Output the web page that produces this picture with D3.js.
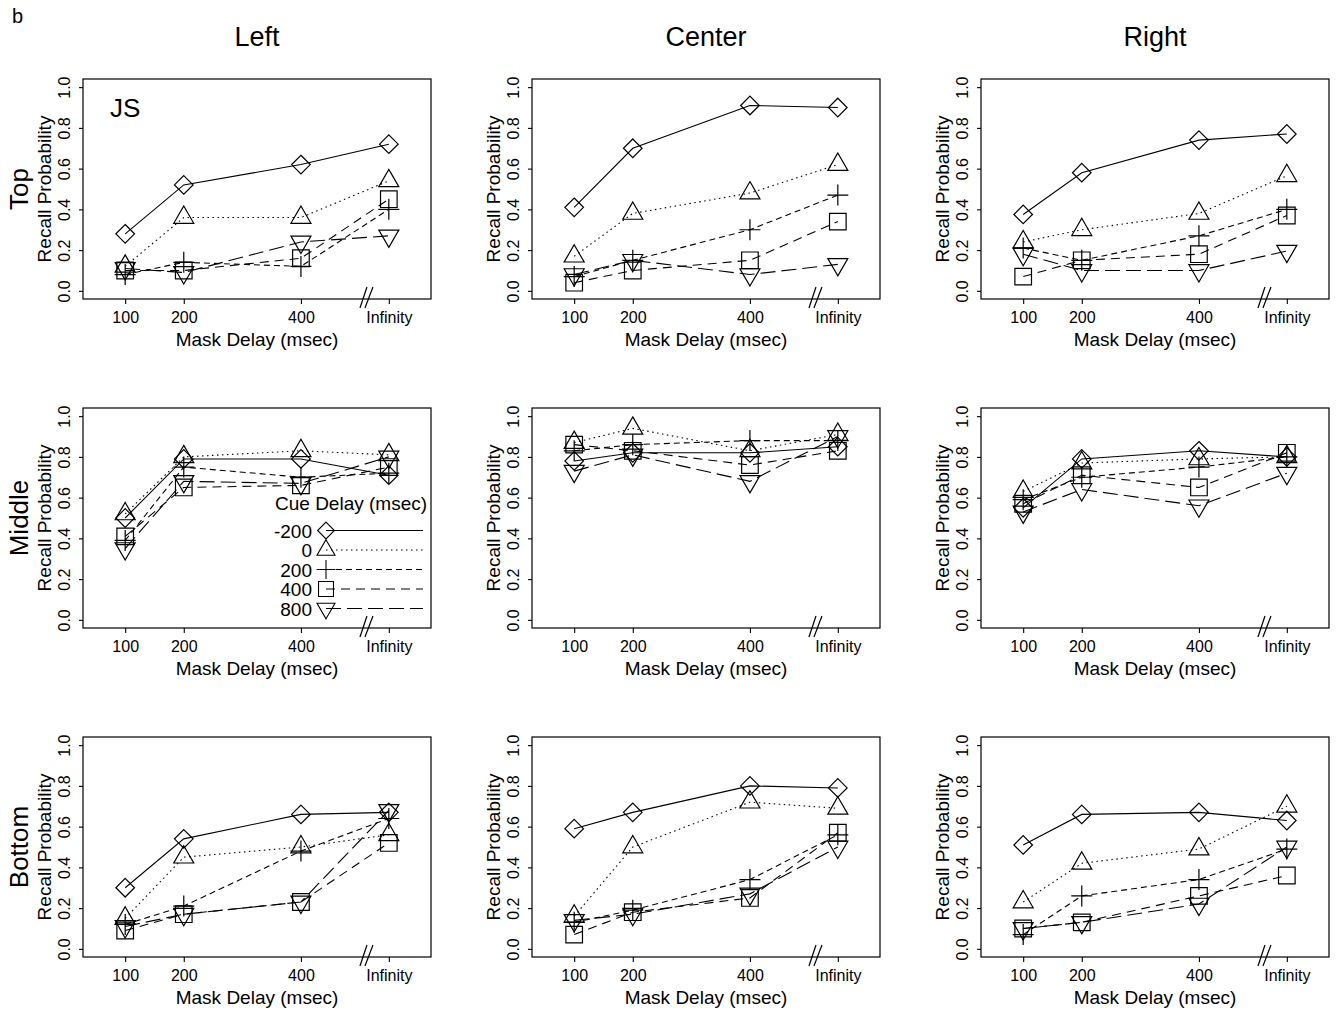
<!DOCTYPE html>
<html>
<head>
<meta charset="utf-8">
<script src="https://cdn.jsdelivr.net/npm/d3@7"></script>
<style>
  html, body { margin: 0; padding: 0; background: #fff; }
  svg { display: block; font-family: "Liberation Sans", Arial, Helvetica, sans-serif; }
</style>
</head>
<body>
<svg id="chart" width="1337" height="1010"></svg>
<script>
// ---------------- DATA ----------------
const panelLabel = "b";
const columnNames = ["Left", "Center", "Right"];
const rowNames = ["Top", "Middle", "Bottom"];
const maskDelays = [100, 200, 400, 550];          // 550 = plotted position of "Infinity"
const maskTickLabels = ["100", "200", "400", "Infinity"];
const yTickValues = [0, 0.2, 0.4, 0.6, 0.8, 1.0];
const cueDelays = ["-200", "0", "200", "400", "800"];
const subjectLabel = "JS";
const xTitle = "Mask Delay (msec)";
const yTitle = "Recall Probability";
const legendTitle = "Cue Delay (msec)";

// values: one row per cue delay (-200, 0, 200, 400, 800), columns = mask delay 100, 200, 400, Infinity
const topLeft = [
  [0.28, 0.52, 0.62, 0.72],
  [0.12, 0.36, 0.36, 0.54],
  [0.08, 0.14, 0.12, 0.40],
  [0.10, 0.10, 0.16, 0.45],
  [0.11, 0.09, 0.24, 0.27]
];
const topCenter = [
  [0.41, 0.70, 0.91, 0.90],
  [0.17, 0.38, 0.48, 0.62],
  [0.07, 0.15, 0.30, 0.47],
  [0.04, 0.10, 0.15, 0.34],
  [0.08, 0.15, 0.08, 0.13]
];
const topRight = [
  [0.375, 0.58, 0.74, 0.77],
  [0.24, 0.30, 0.38, 0.565],
  [0.21, 0.15, 0.27, 0.40],
  [0.07, 0.15, 0.18, 0.37],
  [0.18, 0.10, 0.10, 0.195]
];
const middleLeft = [
  [0.50, 0.79, 0.79, 0.71],
  [0.52, 0.80, 0.83, 0.81],
  [0.39, 0.75, 0.70, 0.72],
  [0.41, 0.65, 0.66, 0.75],
  [0.35, 0.68, 0.67, 0.80]
];
const middleCenter = [
  [0.78, 0.82, 0.82, 0.85],
  [0.87, 0.94, 0.83, 0.91],
  [0.83, 0.86, 0.88, 0.88],
  [0.86, 0.83, 0.76, 0.83],
  [0.73, 0.81, 0.68, 0.90]
];
const middleRight = [
  [0.55, 0.79, 0.83, 0.80],
  [0.63, 0.77, 0.79, 0.80],
  [0.59, 0.70, 0.75, 0.80],
  [0.57, 0.71, 0.65, 0.82],
  [0.53, 0.64, 0.56, 0.72]
];
const bottomLeft = [
  [0.30, 0.54, 0.66, 0.67],
  [0.15, 0.45, 0.50, 0.56],
  [0.12, 0.21, 0.48, 0.64],
  [0.09, 0.17, 0.23, 0.52],
  [0.11, 0.17, 0.23, 0.68]
];
const bottomCenter = [
  [0.59, 0.67, 0.80, 0.79],
  [0.16, 0.50, 0.72, 0.69],
  [0.13, 0.19, 0.34, 0.56],
  [0.07, 0.18, 0.25, 0.57],
  [0.14, 0.17, 0.27, 0.50]
];
const bottomRight = [
  [0.51, 0.66, 0.67, 0.63],
  [0.23, 0.42, 0.49, 0.70],
  [0.07, 0.26, 0.34, 0.49],
  [0.10, 0.13, 0.26, 0.36],
  [0.10, 0.13, 0.22, 0.50]
];
const panels = [
  [topLeft, topCenter, topRight],
  [middleLeft, middleCenter, middleRight],
  [bottomLeft, bottomCenter, bottomRight]
];

// ---------------- STYLE ----------------
const dashes = ["none", "1.5,3.5", "6,4", "9,6", "15,6"];
const symbolPaths = [
  "M0,-9.3L9.3,0L0,9.3L-9.3,0Z",                 // diamond
  "M0,-11.5L10,5.8L-10,5.8Z",                     // triangle up
  "M-10.5,0H10.5M0,-10.5V10.5",                   // plus
  "M-8.3,-8.3H8.3V8.3H-8.3Z",                     // square
  "M0,11.5L10,-5.8L-10,-5.8Z"                     // triangle down
];

const boxLefts = [83, 532, 981];
const boxTops = [79, 408, 737];
const boxW = 348, boxH = 220;

const svg = d3.select("#chart");

const x = d3.scaleLinear().domain([28, 622]).range([0, boxW]);
const y = d3.scaleLinear().domain([-0.04, 1.04]).range([boxH, 0]);
const line = d3.line().x((d, i) => x(maskDelays[i])).y(d => y(d));

svg.append("text").attr("x", 12).attr("y", 23).attr("font-size", 20).text(panelLabel);

columnNames.forEach((c, ci) => {
  svg.append("text")
    .attr("x", boxLefts[ci] + boxW / 2).attr("y", 46)
    .attr("text-anchor", "middle").attr("font-size", 27).text(c);
});

rowNames.forEach((r, ri) => {
  svg.append("text")
    .attr("transform", `translate(${boxLefts[0] - 55},${boxTops[ri] + y(0.5)}) rotate(-90)`)
    .attr("text-anchor", "middle").attr("font-size", 26).text(r);
});

panels.forEach((row, ri) => {
  row.forEach((data, ci) => {
    const g = svg.append("g").attr("transform", `translate(${boxLefts[ci]},${boxTops[ri]})`);

    // y axis
    const ya = g.append("g").call(d3.axisLeft(y).tickValues(yTickValues).tickSize(4).tickFormat(d3.format(".1f")));
    ya.select(".domain").remove();
    ya.selectAll(".tick line").attr("stroke", "#000").attr("stroke-width", 1.1);
    ya.selectAll(".tick text")
      .attr("x", null).attr("dy", null)
      .attr("transform", "translate(-13,0) rotate(-90)")
      .attr("text-anchor", "middle")
      .attr("font-size", 16).attr("font-family", "Liberation Sans, Arial, sans-serif").attr("fill", "#000");

    // x axis
    const xa = g.append("g").attr("transform", `translate(0,${boxH})`)
      .call(d3.axisBottom(x).tickValues(maskDelays).tickSize(5).tickFormat((d, i) => maskTickLabels[i]));
    xa.select(".domain").remove();
    xa.selectAll(".tick line").attr("stroke", "#000").attr("stroke-width", 1.1);
    xa.selectAll(".tick text")
      .attr("y", 24).attr("dy", null)
      .attr("font-size", 16).attr("font-family", "Liberation Sans, Arial, sans-serif").attr("fill", "#000");

    // box
    g.append("rect").attr("x", 0).attr("y", 0).attr("width", boxW).attr("height", boxH)
      .attr("fill", "none").attr("stroke", "#000").attr("stroke-width", 1.2);

    // axis break
    const xb = x(511);
    [[-6, 1], [-1, 7]].forEach(([a, b]) => {
      g.append("line").attr("x1", xb + a).attr("y1", boxH + 9).attr("x2", xb + b).attr("y2", boxH - 12)
        .attr("stroke", "#000").attr("stroke-width", 1.2);
    });

    // titles
    g.append("text").attr("x", boxW / 2).attr("y", boxH + 47).attr("text-anchor", "middle")
      .attr("font-size", 19).text(xTitle);
    g.append("text").attr("transform", `translate(-32,${y(0.5)}) rotate(-90)`)
      .attr("text-anchor", "middle").attr("font-size", 19).text(yTitle);

    // series
    data.forEach((vals, si) => {
      g.append("path").attr("d", line(vals)).attr("fill", "none")
        .attr("stroke", "#000").attr("stroke-width", 1.1)
        .attr("stroke-dasharray", dashes[si]);
      vals.forEach((v, i) => {
        g.append("path").attr("d", symbolPaths[si])
          .attr("transform", `translate(${x(maskDelays[i])},${y(v)})`)
          .attr("fill", "none").attr("stroke", "#000").attr("stroke-width", 1.2);
      });
    });

    if (ri === 0 && ci === 0) {
      g.append("text").attr("x", 27).attr("y", 38).attr("font-size", 26).text(subjectLabel);
    }
    if (ri === 1 && ci === 0) {
      const lg = g.append("g");
      lg.append("text").attr("x", 192).attr("y", 102).attr("font-size", 19).text(legendTitle);
      cueDelays.forEach((c, i) => {
        const cy = 122.5 + i * 19.5;
        lg.append("text").attr("x", 229).attr("y", cy + 7).attr("text-anchor", "end")
          .attr("font-size", 19).text(c);
        lg.append("line").attr("x1", 243).attr("x2", 340).attr("y1", cy).attr("y2", cy)
          .attr("stroke", "#000").attr("stroke-width", 1.1).attr("stroke-dasharray", dashes[i]);
        lg.append("path").attr("d", symbolPaths[i]).attr("transform", `translate(243,${cy}) scale(0.9)`)
          .attr("fill", "none").attr("stroke", "#000").attr("stroke-width", 1.2);
      });
    }
  });
});
</script>
</body>
</html>
